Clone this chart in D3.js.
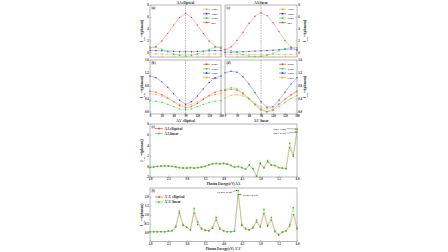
<!DOCTYPE html>
<html>
<head>
<meta charset="utf-8">
<script src="https://cdn.jsdelivr.net/npm/d3@7"></script>
<style>
body { margin: 0; background: #fff; }
text { font-family: "Liberation Serif", serif; font-weight: bold; fill: #222; }
</style>
</head>
<body>
<div id="chart"></div>
<script>
// ---- data ----
const angles = [0, 15, 30, 45, 60, 75, 90, 105, 120, 135, 150, 165, 180];
const angleTicks = [0, 30, 60, 90, 120, 150, 180];

// (a) AA elliptical
const aOrange = [-0.3, -0.3, -0.3, -0.35, -0.35, -0.35, -0.35, -0.35, -0.35, -0.35, -0.3, -0.3, -0.3];
const aBlue   = [0.3, 0.3, 0.25, 0.2, 0.15, 0.1, 0.1, 0.1, 0.15, 0.2, 0.25, 0.3, 0.3];
const aGreen  = [0.9, 0.8, 0.5, 0.1, -0.3, -0.55, -0.65, -0.55, -0.3, 0.1, 0.5, 0.8, 0.9];
const aRed    = [0.7, 1.0, 1.9, 3.2, 4.6, 5.9, 6.6, 5.9, 4.6, 3.2, 1.9, 1.0, 0.7];
// (c) AA linear
const cOrange = [-0.35, -0.35, -0.35, -0.35, -0.35, -0.4, -0.4, -0.4, -0.35, -0.35, -0.35, -0.35, -0.35];
const cBlue   = [0.0, 0.0, 0.05, 0.1, 0.15, 0.2, 0.25, 0.3, 0.35, 0.45, 0.5, 0.55, 0.5];
const cGreen  = [0.5, 0.3, -0.05, -0.4, -0.65, -0.75, -0.7, -0.5, -0.15, 0.25, 0.6, 0.8, 0.8];
const cRed    = [0.4, 0.9, 2.0, 3.4, 4.9, 6.1, 6.7, 6.2, 5.0, 3.5, 2.0, 0.9, 0.3];
const topLabels = ["1.5eV", "3.0eV", "4.5eV", "6eV"];

// (b) AA' elliptical
const bRed    = [0.63, 0.6, 0.52, 0.42, 0.3, 0.18, 0.12, 0.15, 0.25, 0.38, 0.5, 0.6, 0.65];
const bGreen  = [0.33, 0.32, 0.28, 0.22, 0.15, 0.08, 0.06, 0.08, 0.15, 0.22, 0.28, 0.32, 0.34];
const bBlue   = [1.1, 1.05, 0.92, 0.75, 0.55, 0.35, 0.22, 0.3, 0.48, 0.7, 0.9, 1.05, 1.1];
const bOrange = [0.55, 0.53, 0.48, 0.4, 0.3, 0.22, 0.18, 0.22, 0.3, 0.4, 0.48, 0.53, 0.56];
// (d) AA' linear
const dRed    = [0.65, 0.69, 0.66, 0.55, 0.4, 0.22, 0.07, 0.0, 0.06, 0.22, 0.38, 0.52, 0.64];
const dGreen  = [0.68, 0.74, 0.7, 0.58, 0.4, 0.2, 0.04, -0.02, 0.03, 0.15, 0.28, 0.4, 0.5];
const dBlue   = [1.2, 1.25, 1.22, 1.08, 0.85, 0.58, 0.3, 0.13, 0.15, 0.35, 0.6, 0.85, 1.05];
const dOrange = [0.42, 0.5, 0.52, 0.48, 0.38, 0.25, 0.14, 0.08, 0.12, 0.24, 0.38, 0.5, 0.6];
const midLabels = ["2.5eV", "3.5eV", "4.5eV", "5.5eV"];

// (e), (f) spectra
const energy = [2.0, 2.1, 2.2, 2.3, 2.4, 2.5, 2.6, 2.7, 2.8, 2.9, 3.0, 3.1, 3.2, 3.3, 3.4, 3.5, 3.6, 3.7, 3.8, 3.9, 4.0,
                4.1, 4.2, 4.3, 4.4, 4.5, 4.6, 4.7, 4.8, 4.9, 5.0, 5.1, 5.2, 5.3, 5.4, 5.5, 5.6, 5.7, 5.8, 5.9, 6.0];
const energyTicks = [2.0, 2.5, 3.0, 3.5, 4.0, 4.5, 5.0, 5.5, 6.0];
const eLinear     = [-0.2, -0.1, 0.0, 0.1, 0.1, 0.1, 0.0, -0.1, -0.2, -0.3, -0.3, -0.2, -0.3, -0.2, -0.1, 0.0, 0.3, 0.5, 0.6, 0.5, 0.6,
                     0.5, 0.2, -0.1, 0.0, -0.2, -0.5, 0.3, -0.4, -1.8, 0.7, -0.2, 1.1, 0.3, 0.2, -0.2, -0.3, -0.4, 4.4, 2.2, 7.04];
const eElliptical = [-0.2, -0.1, 0.0, 0.05, 0.1, 0.05, 0.0, -0.1, -0.25, -0.3, -0.35, -0.25, -0.35, -0.25, -0.15, 0.0, 0.25, 0.45, 0.5, 0.45, 0.5,
                     0.4, 0.15, -0.15, -0.05, -0.25, -0.55, 0.2, -0.45, -1.9, 0.5, -0.3, 0.9, 0.2, 0.1, -0.25, -0.35, -0.45, 3.5, 1.9, 6.47];
const fLinear     = [0.05, 0.05, 0.05, 0.05, 0.05, 0.08, 0.1, 0.35, 1.2, 0.45, 0.3, 0.15, 1.35, 0.6, 0.25, 0.15, 0.1, 0.3, 0.85, 0.25, 0.1,
                     0.05, 0.05, 0.08, 2.36, 0.45, 0.25, 0.15, 0.3, 0.7, 0.35, 1.3, 0.4, 0.85, 0.1, -0.1, 0.05, 0.1, 0.45, 1.4, 0.25];
const fElliptical = [0.05, 0.05, 0.05, 0.05, 0.05, 0.07, 0.1, 0.3, 1.1, 0.4, 0.3, 0.15, 1.1, 0.45, 0.2, 0.12, 0.1, 0.25, 0.7, 0.2, 0.1,
                     0.05, 0.05, 0.07, 2.14, 0.4, 0.2, 0.15, 0.25, 0.6, 0.3, 1.05, 0.35, 0.7, 0.05, -0.15, 0.0, 0.1, 0.35, 1.0, 0.2];

const RED = "#ff3030", GREEN = "#22dd22", BLUE = "#3030ff", ORANGE = "#ff9a30";

const svg = d3.select("#chart").append("svg")
  .attr("width", 448).attr("height", 252);

function panel(o) {
  const x = d3.scaleLinear().domain(o.xDomain).range([o.x0, o.x1]);
  const y = d3.scaleLinear().domain(o.yDomain).range([o.y1, o.y0]);
  const g = svg.append("g");

  // frame
  g.append("rect").attr("x", o.x0).attr("y", o.y0)
    .attr("width", o.x1 - o.x0).attr("height", o.y1 - o.y0)
    .attr("fill", "none").attr("stroke", "#999").attr("stroke-width", 0.7);

  // x axis
  const xa = g.append("g").attr("transform", `translate(0,${o.y1})`)
    .call(d3.axisBottom(x).tickValues(o.xTicks).tickSize(-1.5).tickPadding(1.2)
      .tickFormat(o.showX ? o.xFmt : ""));
  xa.select(".domain").remove();
  xa.selectAll("line").attr("stroke", "#999").attr("stroke-width", 0.5);
  xa.selectAll("text").style("font-size", "3px").attr("fill", "#333");

  // y axis
  const yAxis = o.right ? d3.axisRight(y) : d3.axisLeft(y);
  const ya = g.append("g").attr("transform", `translate(${o.right ? o.x1 : o.x0},0)`)
    .call(yAxis.tickValues(o.yTicks).tickSize(-1.5).tickPadding(1.2).tickFormat(o.yFmt));
  ya.select(".domain").remove();
  ya.selectAll("line").attr("stroke", "#999").attr("stroke-width", 0.5);
  ya.selectAll("text").style("font-size", "3px").attr("fill", "#333");

  // y label
  const lx = o.right ? o.x1 + 8.5 : o.x0 - 7;
  const yl = g.append("text")
    .attr("transform", `translate(${lx},${(o.y0 + o.y1) / 2}) rotate(-90)`)
    .attr("text-anchor", "middle").style("font-size", "3.6px");
  yl.append("tspan").text("I");
  yl.append("tspan").attr("baseline-shift", "sub").style("font-size", "2.6px").text("circ");
  yl.append("tspan").attr("baseline-shift", "super").style("font-size", "2.6px").text("(a)");
  yl.append("tspan").text("(phonon)");

  // dashed reference line
  if (o.vline !== undefined) {
    g.append("line").attr("x1", x(o.vline)).attr("x2", x(o.vline))
      .attr("y1", o.y0).attr("y2", o.y1)
      .attr("stroke", "#777").attr("stroke-width", 0.5).attr("stroke-dasharray", "1.5,1");
  }

  // series
  o.series.forEach(s => {
    const pts = o.xs.map((v, i) => [v, s.values[i]]);
    g.append("path").datum(pts)
      .attr("fill", "none").attr("stroke", s.color).attr("stroke-opacity", 0.55)
      .attr("stroke-width", 0.6)
      .attr("d", d3.line().x(d => x(d[0])).y(d => y(d[1])));
    if (s.square) {
      g.selectAll(null).data(pts).join("rect")
        .attr("x", d => x(d[0]) - o.ms).attr("y", d => y(d[1]) - o.ms)
        .attr("width", o.ms * 2).attr("height", o.ms * 2).attr("fill", s.color);
    } else {
      g.selectAll(null).data(pts).join("circle")
        .attr("cx", d => x(d[0])).attr("cy", d => y(d[1])).attr("r", o.ms)
        .attr("fill", s.color);
    }
  });

  // panel letter
  g.append("text").attr("x", o.x0 + 1.5).attr("y", o.y0 + 4)
    .style("font-size", "3.3px").text(o.tag);

  // legend
  o.legend.forEach((s, i) => {
    const ly = o.legY + i * o.legDy;
    g.append("line").attr("x1", o.legX).attr("x2", o.legX + o.legW)
      .attr("y1", ly).attr("y2", ly).attr("stroke", s.color).attr("stroke-width", 0.6);
    g.append("rect").attr("x", o.legX + o.legW / 2 - 0.8).attr("y", ly - 0.8)
      .attr("width", 1.6).attr("height", 1.6).attr("fill", s.color);
    g.append("text").attr("x", o.legX + o.legW + 1.5).attr("y", ly + 1)
      .style("font-size", o.legFont + "px").text(s.label);
  });
  return { x, y, g };
}

const fmt1 = d3.format(".1f");
const fmt0 = d3.format("d");

// top row
const topYDomain = [-0.8, 8], topYTicks = [0, 2, 4, 6, 8];
const topSeries = (o, b, g, r) => [
  { color: ORANGE, values: o, label: topLabels[0] },
  { color: BLUE, values: b, label: topLabels[1] },
  { color: GREEN, values: g, label: topLabels[2] },
  { color: RED, values: r, label: topLabels[3] }];

const sa = topSeries(aOrange, aBlue, aGreen, aRed);
panel({ x0: 150, x1: 221, y0: 5, y1: 57, xDomain: [0, 180], yDomain: topYDomain,
  xs: angles, xTicks: angleTicks, yTicks: topYTicks, showX: false, xFmt: fmt0, yFmt: fmt0,
  series: sa, legend: sa, legX: 203, legY: 9.3, legDy: 4.4, legW: 7, legFont: 2.8,
  tag: "(a)", vline: 90, ms: 0.7 });
const sc = topSeries(cOrange, cBlue, cGreen, cRed);
panel({ x0: 225, x1: 297, y0: 5, y1: 57, xDomain: [0, 180], yDomain: topYDomain, right: true,
  xs: angles, xTicks: angleTicks, yTicks: topYTicks, showX: false, xFmt: fmt0, yFmt: fmt0,
  series: sc, legend: sc, legX: 279, legY: 9.3, legDy: 4.4, legW: 7, legFont: 2.8,
  tag: "(c)", vline: 90, ms: 0.7 });

svg.append("text").attr("x", 185.5).attr("y", 4).attr("text-anchor", "middle")
  .style("font-size", "3.3px").text("AA elliptical");
svg.append("text").attr("x", 261).attr("y", 4).attr("text-anchor", "middle")
  .style("font-size", "3.3px").text("AA linear");

// middle row
const midYDomain = [-0.08, 1.6], midYTicks = [0, 0.4, 0.8, 1.2, 1.6];
const midSeries = (r, g, b, o) => [
  { color: RED, values: r, label: midLabels[0] },
  { color: GREEN, values: g, label: midLabels[1] },
  { color: BLUE, values: b, label: midLabels[2] },
  { color: ORANGE, values: o, label: midLabels[3] }];

const sb = midSeries(bRed, bGreen, bBlue, bOrange);
panel({ x0: 150, x1: 221, y0: 60, y1: 114, xDomain: [0, 180], yDomain: midYDomain,
  xs: angles, xTicks: angleTicks, yTicks: midYTicks, showX: true, xFmt: fmt0, yFmt: fmt1,
  series: sb, legend: sb, legX: 203, legY: 64.3, legDy: 4.4, legW: 7, legFont: 2.8,
  tag: "(b)", vline: 90, ms: 0.7 });
const sd = midSeries(dRed, dGreen, dBlue, dOrange);
panel({ x0: 225, x1: 297, y0: 60, y1: 114, xDomain: [0, 180], yDomain: midYDomain, right: true,
  xs: angles, xTicks: angleTicks, yTicks: midYTicks, showX: true, xFmt: fmt0, yFmt: fmt1,
  series: sd, legend: sd, legX: 279, legY: 64.3, legDy: 4.4, legW: 7, legFont: 2.8,
  tag: "(d)", vline: 90, ms: 0.7 });

svg.append("text").attr("x", 185.5).attr("y", 121.5).attr("text-anchor", "middle")
  .style("font-size", "3.3px").text("AA' elliptical");
svg.append("text").attr("x", 261).attr("y", 121.5).attr("text-anchor", "middle")
  .style("font-size", "3.3px").text("AA' linear");

// (e)
const pe = panel({ x0: 150, x1: 297, y0: 124, y1: 177, xDomain: [2, 6], yDomain: [-2, 8],
  xs: energy, xTicks: energyTicks, yTicks: [-2, 0, 2, 4, 6, 8], showX: true, xFmt: fmt1, yFmt: fmt0,
  series: [{ color: RED, values: eElliptical, label: "AA elliptical" },
           { color: GREEN, values: eLinear, label: "AA linear", square: true }],
  legend: [{ color: RED, label: "AA elliptical" }, { color: GREEN, label: "AA linear" }],
  legX: 155, legY: 128.5, legDy: 5, legW: 8, legFont: 3.4,
  tag: "(e)", ms: 0.75 });
svg.append("text").attr("x", 223.5).attr("y", 184.5).attr("text-anchor", "middle")
  .style("font-size", "3.4px").text("Photon Energy(eV) AA");

// (f)
const pf = panel({ x0: 150, x1: 297, y0: 188, y1: 241.5, xDomain: [2, 6], yDomain: [-0.5, 2.5],
  xs: energy, xTicks: energyTicks, yTicks: [0, 0.5, 1.0, 1.5, 2.0], showX: true, xFmt: fmt1, yFmt: fmt1,
  series: [{ color: RED, values: fElliptical, label: "A'A' elliptical" },
           { color: GREEN, values: fLinear, label: "A'A' linear", square: true }],
  legend: [{ color: RED, label: "A'A' elliptical" }, { color: GREEN, label: "A'A' linear" }],
  legX: 155, legY: 197, legDy: 5, legW: 8, legFont: 3.4,
  tag: "(f)", ms: 0.75 });
svg.append("text").attr("x", 223.5).attr("y", 249.5).attr("text-anchor", "middle")
  .style("font-size", "3.4px").text("Photon Energy(eV) A'A'");

// annotations with arrows
function note(txt, tx, ty, ax, ay, anchor) {
  svg.append("text").attr("x", tx).attr("y", ty + 1).attr("text-anchor", anchor)
    .style("font-size", "2.9px").text(txt);
  const sx = anchor === "end" ? tx + 0.8 : tx - 0.8;
  svg.append("line").attr("x1", sx).attr("y1", ty).attr("x2", ax).attr("y2", ay)
    .attr("stroke", "#333").attr("stroke-width", 0.35);
  const dir = Math.sign(ax - sx);
  svg.append("path")
    .attr("d", `M${ax},${ay} l${-dir * 1.4},-0.7 l0,1.4 z`).attr("fill", "#333");
}
note("(6eV 7.04)", 286, 128.5, 296.5, pe.y(7.04), "end");
note("(6eV 6.47)", 286, 133, 296.5, pe.y(6.47), "end");
note("(4.4eV 2.36)", 232, 191.5, pf.x(4.4) - 0.8, pf.y(2.36), "end");
note("(4.4eV 2.14)", 243, 194.5, pf.x(4.4) + 0.8, pf.y(2.14), "start");
</script>
</body>
</html>
